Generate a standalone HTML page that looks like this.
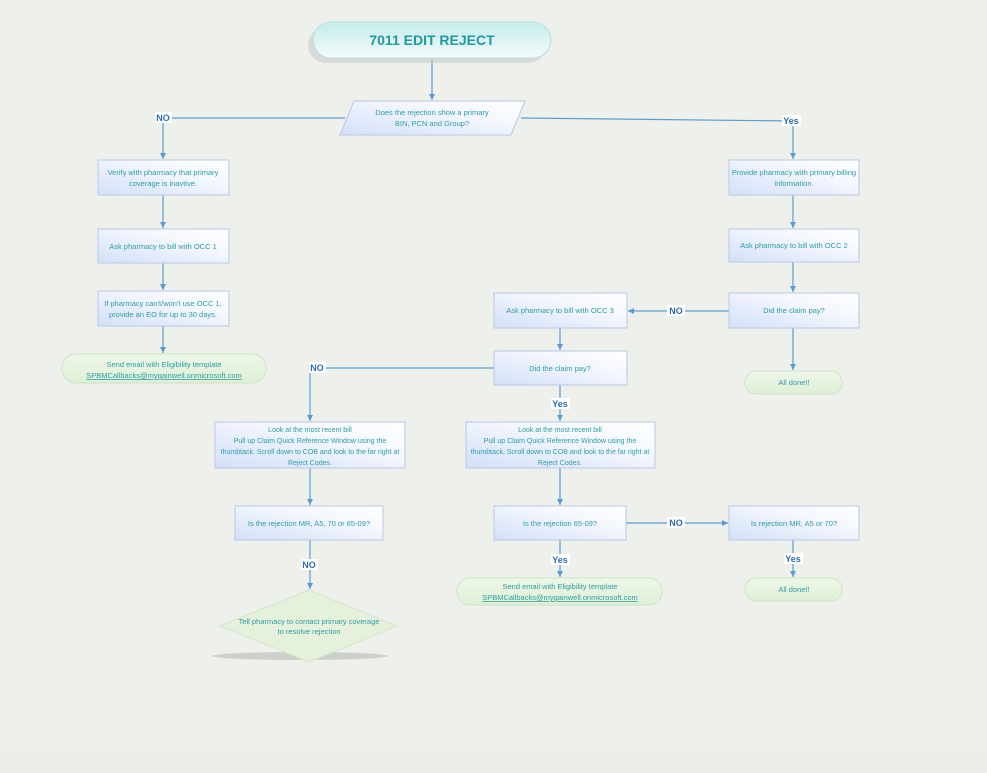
<!DOCTYPE html>
<html><head><meta charset="utf-8"><style>
html,body{margin:0;padding:0;background:#eef0eb;}
svg{display:block;}
text{font-family:"Liberation Sans",sans-serif;}
.t{fill:#2a9ea6;font-size:7.5px;text-anchor:middle;}
.s{fill:#2a9ea6;font-size:7px;text-anchor:middle;}
.l{fill:#2e6db4;font-size:9px;font-weight:bold;text-anchor:middle;}
.ln{stroke:#5b9bd5;stroke-width:1.2;fill:none;}
.u{fill:#2a9ea6;font-size:7.5px;text-anchor:middle;text-decoration:underline;}
</style></head><body>
<svg width="987" height="773" viewBox="0 0 987 773" xmlns="http://www.w3.org/2000/svg">
<defs>
<linearGradient id="bx" x1="0" y1="1" x2="1" y2="0"><stop offset="0" stop-color="#d3e0f8"/><stop offset="0.6" stop-color="#f3f6fd"/><stop offset="1" stop-color="#ffffff"/></linearGradient>
<linearGradient id="tt" x1="0" y1="0" x2="0" y2="1"><stop offset="0" stop-color="#c6ecec"/><stop offset="1" stop-color="#f2fbfb"/></linearGradient>
<linearGradient id="gr" x1="0" y1="0" x2="0" y2="1"><stop offset="0" stop-color="#eef7e8"/><stop offset="1" stop-color="#dff0d6"/></linearGradient>
<marker id="a" markerWidth="6" markerHeight="6" refX="5" refY="3" orient="auto"><path d="M0,0.5 L5,3 L0,5.5z" fill="#5b9bd5"/></marker>
</defs>
<rect x="0" y="752" width="987" height="21" fill="#edebe8"/>

<g class="ln">
<line x1="432" y1="58" x2="432" y2="100" marker-end="url(#a)"/>
<polyline points="345,118 163,118 163,159" marker-end="url(#a)"/>
<polyline points="521,118 793,121 793,159" marker-end="url(#a)"/>
<line x1="163" y1="195" x2="163" y2="228" marker-end="url(#a)"/>
<line x1="163" y1="263" x2="163" y2="290" marker-end="url(#a)"/>
<line x1="163" y1="326" x2="163" y2="353" marker-end="url(#a)"/>
<line x1="793" y1="195" x2="793" y2="228" marker-end="url(#a)"/>
<line x1="793" y1="262" x2="793" y2="292" marker-end="url(#a)"/>
<line x1="793" y1="328" x2="793" y2="370" marker-end="url(#a)"/>
<line x1="729" y1="311" x2="628" y2="311" marker-end="url(#a)"/>
<line x1="560" y1="328" x2="560" y2="350" marker-end="url(#a)"/>
<polyline points="494,368 310,368 310,421" marker-end="url(#a)"/>
<line x1="560" y1="385" x2="560" y2="421" marker-end="url(#a)"/>
<line x1="310" y1="468" x2="310" y2="505" marker-end="url(#a)"/>
<line x1="560" y1="468" x2="560" y2="505" marker-end="url(#a)"/>
<line x1="310" y1="540" x2="310" y2="589" marker-end="url(#a)"/>
<line x1="560" y1="540" x2="560" y2="577" marker-end="url(#a)"/>
<line x1="626" y1="523" x2="728" y2="523" marker-end="url(#a)"/>
<line x1="793" y1="540" x2="793" y2="577" marker-end="url(#a)"/>
</g>

<rect x="308" y="27" width="238" height="36" rx="18" fill="#c9cbc6" opacity="0.6"/>
<rect x="313" y="22" width="238" height="36" rx="18" fill="url(#tt)" stroke="#b9dede"/>
<text x="432" y="45" style="fill:#1f9a9c;font-size:14px;font-weight:bold;text-anchor:middle">7011 EDIT REJECT</text>

<polygon points="354,101 525,101 511,135 340,135" fill="url(#bx)" stroke="#b8c8e6"/>
<text class="t" x="432" y="115">Does the rejection show a primary</text>
<text class="t" x="432" y="126">BIN, PCN and Group?</text>

<g fill="url(#bx)" stroke="#b8c8e6">
<rect x="98" y="160" width="131" height="35"/>
<rect x="98" y="229" width="131" height="34"/>
<rect x="98" y="291" width="131" height="35"/>
<rect x="729" y="160" width="130" height="35"/>
<rect x="729" y="229" width="130" height="33"/>
<rect x="729" y="293" width="130" height="35"/>
<rect x="494" y="293" width="133" height="35"/>
<rect x="494" y="351" width="133" height="34"/>
<rect x="215" y="422" width="190" height="46"/>
<rect x="466" y="422" width="189" height="46"/>
<rect x="235" y="506" width="148" height="34"/>
<rect x="494" y="506" width="132" height="34"/>
<rect x="729" y="506" width="130" height="34"/>
</g>
<g fill="url(#gr)" stroke="#cfe3c4">
<rect x="62" y="354" width="204" height="29" rx="14"/>
<rect x="745" y="371" width="97" height="23" rx="11"/>
<rect x="457" y="578" width="205" height="27" rx="13"/>
<rect x="745" y="578" width="97" height="23" rx="11"/>
</g>
<ellipse cx="300" cy="656" rx="88" ry="4" fill="#bfc2bc" opacity="0.7"/>
<polygon points="309,590 397,626 309,662 220,626" fill="#e6f1dc" stroke="#d3e6c8"/>

<text class="t" x="163" y="175">Verify with pharmacy that primary</text>
<text class="t" x="163" y="186">coverage is inavtive.</text>
<text class="t" x="163" y="249">Ask pharmacy to bill with OCC 1</text>
<text class="t" x="163" y="306">If pharmacy can't/won't use OCC 1,</text>
<text class="t" x="163" y="317">provide an EO for up to 30 days.</text>
<text class="t" x="164" y="367">Send email with Eligibility template</text>
<text class="u" x="164" y="378">SPBMCallbacks@mygainwell.onmicrosoft.com</text>
<text class="t" x="794" y="175">Provide pharmacy with primary billing</text>
<text class="t" x="794" y="186">information.</text>
<text class="t" x="794" y="248">Ask pharmacy to bill with OCC 2</text>
<text class="t" x="794" y="313">Did the claim pay?</text>
<text class="t" x="794" y="385">All done!!</text>
<text class="t" x="560" y="313">Ask pharmacy to bill with OCC 3</text>
<text class="t" x="560" y="371">Did the claim pay?</text>
<text class="s" x="310" y="432">Look at the most recent bill</text>
<text class="s" x="310" y="443">Pull up Claim Quick Reference Window using the</text>
<text class="s" x="310" y="454">thumbtack. Scroll down to COB and look to the far right at</text>
<text class="s" x="310" y="465">Reject Codes.</text>
<text class="s" x="560" y="432">Look at the most recent bill</text>
<text class="s" x="560" y="443">Pull up Claim Quick Reference Window using the</text>
<text class="s" x="560" y="454">thumbtack. Scroll down to COB and look to the far right at</text>
<text class="s" x="560" y="465">Reject Codes.</text>
<text class="t" x="309" y="526">Is the rejection MR, A5, 70 or 65-09?</text>
<text class="t" x="560" y="526">Is the rejection 65-09?</text>
<text class="t" x="794" y="526">Is rejection MR, A5 or 70?</text>
<text class="t" x="309" y="624">Tell pharmacy to contact primary coverage</text>
<text class="t" x="309" y="634">to resolve rejection</text>
<text class="t" x="560" y="589">Send email with Eligibility template</text>
<text class="u" x="560" y="600">SPBMCallbacks@mygainwell.onmicrosoft.com</text>
<text class="t" x="794" y="592">All done!!</text>

<g fill="#ffffff">
<rect x="155" y="112" width="17" height="11"/>
<rect x="782" y="115" width="19" height="11"/>
<rect x="667" y="305" width="18" height="11"/>
<rect x="309" y="362" width="17" height="11"/>
<rect x="551" y="398" width="19" height="11"/>
<rect x="301" y="559" width="17" height="11"/>
<rect x="551" y="554" width="19" height="11"/>
<rect x="667" y="517" width="18" height="11"/>
<rect x="784" y="553" width="19" height="11"/>
</g>
<text class="l" x="163" y="121">NO</text>
<text class="l" x="791" y="124">Yes</text>
<text class="l" x="676" y="314">NO</text>
<text class="l" x="317" y="371">NO</text>
<text class="l" x="560" y="407">Yes</text>
<text class="l" x="309" y="568">NO</text>
<text class="l" x="560" y="563">Yes</text>
<text class="l" x="676" y="526">NO</text>
<text class="l" x="793" y="562">Yes</text>
</svg>
</body></html>
